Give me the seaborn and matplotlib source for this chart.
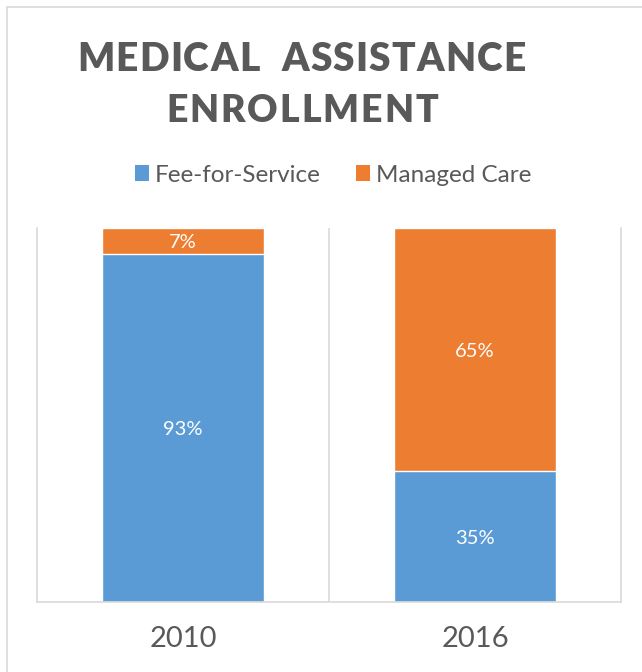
import matplotlib
matplotlib.use("Agg")
import matplotlib.pyplot as plt
from matplotlib.patches import Patch
from matplotlib.lines import Line2D
import seaborn as sns
import pandas as pd

# ---- data ----
years = ["2010", "2016"]
fee_for_service = [93, 35]
managed_care = [7, 65]
series_names = ["Fee-for-Service", "Managed Care"]
title_lines = ["MEDICAL  ASSISTANCE", "ENROLLMENT"]

BLUE = "#5B9BD5"
ORANGE = "#ED7D31"
GRID = "#D9D9D9"
TEXT = "#595959"
FONT = ["Lato", "DejaVu Sans"]

sns.set_theme(style="white")
plt.rcParams["font.family"] = FONT

W, H = 642, 672
fig = plt.figure(figsize=(W / 100, H / 100), dpi=100)
ax = fig.add_axes([37 / W, 1 - 602 / H, 584 / W, 374 / H])

df = pd.DataFrame({
    "year": years,
    "fee": fee_for_service,
    "managed": managed_care,
})
df["total"] = df["fee"] + df["managed"]

sns.barplot(data=df, x="year", y="total", color=ORANGE, width=0.558,
            saturation=1, ax=ax)
sns.barplot(data=df, x="year", y="fee", color=BLUE, width=0.558,
            saturation=1, ax=ax)

for i, (f, m) in enumerate(zip(df["fee"], df["managed"])):
    ax.text(i, f / 2, f"{f}%", ha="center", va="center_baseline",
            color="white", fontsize=14.5, family=FONT)
    ax.text(i, f + m / 2, f"{m}%", ha="center", va="center_baseline",
            color="white", fontsize=14.5, family=FONT)

ax.set_xlim(-0.5, 1.5)
ax.set_ylim(0, 100)
ax.set_xlabel("")
ax.set_ylabel("")
ax.set_yticks([])
ax.tick_params(axis="x", length=0, pad=17, labelsize=21, labelcolor=TEXT)
for lab in ax.get_xticklabels():
    lab.set_family(FONT)
ax.spines["top"].set_visible(False)
for s in ["left", "right", "bottom"]:
    ax.spines[s].set_color(GRID)
    ax.spines[s].set_linewidth(1.2)
ax.axvline(0.5, color=GRID, lw=1.2, zorder=0)

# chart border
fig.add_artist(Line2D([7 / W, 7 / W], [0, 1 - 7 / H], color=GRID, lw=1.2,
                      transform=fig.transFigure))
fig.add_artist(Line2D([7 / W, 1], [1 - 7 / H, 1 - 7 / H], color=GRID, lw=1.2,
                      transform=fig.transFigure))

# letter-spaced title
renderer = fig.canvas.get_renderer()


def spaced_text(s, x_left, x_right, y_base, size):
    objs = []
    widths = []
    for ch in s:
        t = fig.text(0, 0, ch if ch != " " else "\u00a0", fontsize=size,
                     fontweight="heavy", color=TEXT, family=FONT,
                     va="baseline", ha="left")
        bb = t.get_window_extent(renderer)
        objs.append(t)
        widths.append(bb.width)
    total = sum(widths)
    track = (x_right - x_left - total) / max(len(s) - 1, 1)
    x = x_left
    for t, w in zip(objs, widths):
        t.set_position((x / W, 1 - y_base / H))
        x += w + track


spaced_text(title_lines[0], 77, 526, 71, 28)
spaced_text(title_lines[1], 166, 438, 122, 27)

handles = [Patch(facecolor=BLUE, edgecolor="none"),
           Patch(facecolor=ORANGE, edgecolor="none")]
fig.legend(handles, series_names, loc="center", ncol=2,
           bbox_to_anchor=(333 / W, 1 - 175 / H), frameon=False,
           labelcolor=TEXT, handlelength=0.6,
           handleheight=0.6, handletextpad=0.22, columnspacing=1.45,
           borderpad=0, prop={"family": FONT, "size": 17.5})

fig.savefig("out.png", dpi=100)
